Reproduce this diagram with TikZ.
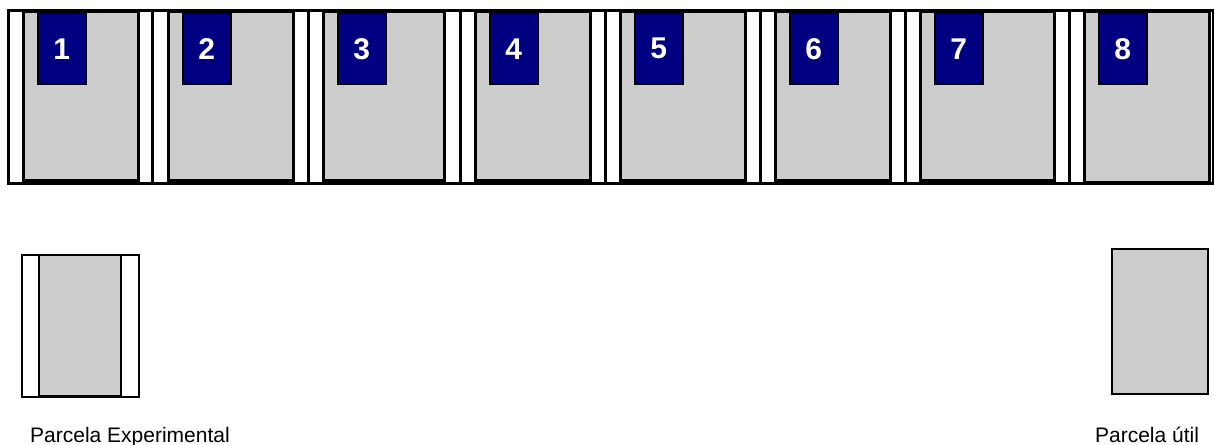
\documentclass[tikz,border=0pt]{standalone}
\usepackage{fontspec}
\setmainfont{Liberation Sans}
\usetikzlibrary{positioning}

\definecolor{plotgray}{HTML}{CCCCCC}
\definecolor{tagblue}{HTML}{000080}

\begin{document}
\begin{tikzpicture}[x=1pt,y=-1pt,
  plot/.style={draw,line width=3pt,fill=plotgray,inner sep=0pt,outer sep=0pt},
  tag/.style={draw,line width=2pt,fill=tagblue,text=white,inner sep=0pt,
    minimum width=47.5pt,minimum height=70.5pt,font=\fontsize{30}{30}\selectfont\bfseries},
  legend/.style={anchor=base,inner sep=0pt,font=\fontsize{21}{21}\selectfont}]
  \useasboundingbox (0,0) rectangle (1214,444);

  % strip of plots
  \draw[line width=3pt] (8,10.5) rectangle (1213,183);
  \foreach \x in {152,308,460,605,760,905,1069}
    \draw[line width=3pt] (\x,10.5) -- (\x,183);

  \foreach \n/\l/\r in {1/23/138,2/168/293,3/323/444,4/475/590,
                        5/620/745,6/775/890,7/920/1054}{
    \node[plot,minimum width=\r-\l,minimum height=168] (p\n) at ({(\l+\r)/2},96) {};
    \node[tag] (t\n) at (\l+38.75,48.75) {\n};
  }
  \node[plot,minimum width=125,minimum height=170] (p8) at (1146.5,97) {};
  \node[tag] (t8) at (1084+38.75,48.75) {8};

  % legend
  \node[draw,line width=2pt,fill=white,inner sep=0pt,minimum width=117,minimum height=142]
    (exp) at (80.5,326) {};
  \node[plot,line width=2pt,minimum width=82,minimum height=141] (expin) at (80,325.5) {};
  \draw[line width=3pt] (expin.south west) -- (expin.south east);
  \node[plot,line width=2pt,minimum width=96,minimum height=145] (util) at (1160,321.5) {};

  \node[legend] (lexp) at (130,442) {Parcela Experimental};
  \node[legend] (lutil) at (1147,442) {Parcela útil};
\end{tikzpicture}
\end{document}
